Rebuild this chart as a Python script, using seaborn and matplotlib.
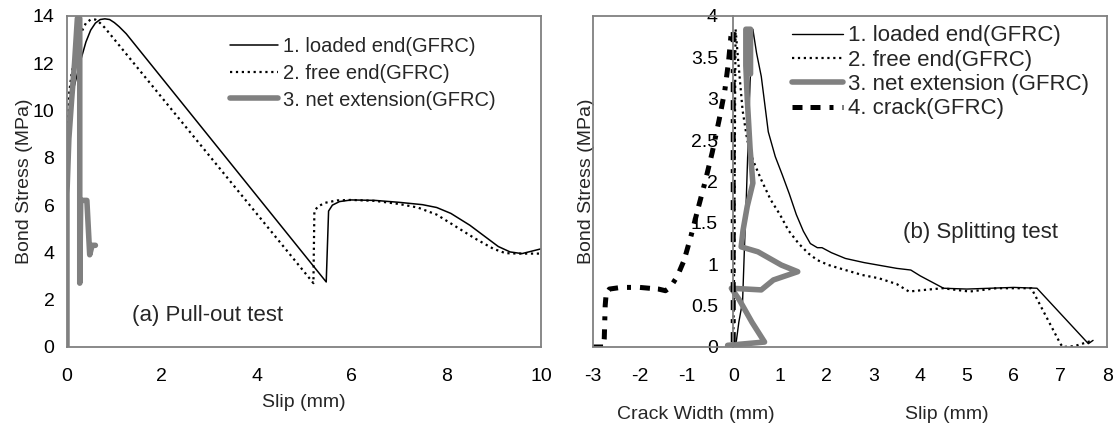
import numpy as np
import pandas as pd
import matplotlib as mpl
mpl.use("Agg")
import matplotlib.pyplot as plt
import seaborn as sns
from matplotlib.ticker import FixedLocator, FixedFormatter

# -- data: (a) pull-out test ---------------------------------------
pull_loaded_x = [0, 0.0, 0.02, 0.05, 0.1, 0.2, 0.3, 0.4, 0.5, 0.6, 0.7, 0.8, 0.9, 1.0, 1.1, 1.25,
                 5.47, 5.52, 5.6, 5.75, 6.0, 6.5, 7.0, 7.5, 7.8, 8.1, 8.5, 8.8, 9.1, 9.35, 9.6, 9.8, 10.0]
pull_loaded_y = [0, 6.0, 8.5, 9.8, 10.6, 11.4, 12.2, 12.9, 13.4, 13.7, 13.85, 13.88, 13.85, 13.72, 13.55, 13.25,
                 2.75, 5.75, 6.0, 6.15, 6.22, 6.2, 6.12, 6.02, 5.9, 5.65, 5.15, 4.7, 4.25, 4.02, 3.95, 4.05, 4.15]

pull_free_x = [0, 0.0, 0.02, 0.05, 0.1, 0.15, 0.2, 0.3, 0.4, 0.5, 0.6, 0.7, 0.8,
               5.2, 5.22, 5.3, 5.45, 5.7, 6.0, 6.5, 7.0, 7.4, 7.8, 8.2, 8.6, 9.0, 9.25, 9.5, 10.0]
pull_free_y = [0, 7.0, 9.5, 10.8, 11.6, 12.1, 12.6, 13.3, 13.7, 13.85, 13.85, 13.7, 13.5,
               2.7, 5.75, 5.95, 6.1, 6.2, 6.22, 6.18, 6.05, 5.9, 5.6, 5.1, 4.6, 4.15, 3.97, 3.95, 3.95]

pull_net_x = [0, 0.0, 0.04, 0.1, 0.16, 0.22, 0.27, 0.27, 0.29, 0.42, 0.48, 0.53, 0.6]
pull_net_y = [0, 6.5, 8.8, 10.5, 12.0, 13.9, 13.9, 2.7, 6.2, 6.2, 3.9, 4.3, 4.3]

# -- data: (b) splitting test --------------------------------------
split_loaded_x = [0.05, 0.12, 0.2, 0.24, 0.28, 0.32, 0.36, 0.42, 0.5, 0.6, 0.75, 0.9, 1.05, 1.2, 1.35,
                  1.5, 1.65, 1.8, 1.9, 2.1, 2.4, 2.8, 3.1, 3.5, 3.8, 4.0, 4.2, 4.5, 5.0, 5.5, 6.0, 6.5, 7.6, 7.7]
split_loaded_y = [0, 0.3, 0.55, 1.2, 1.8, 2.5, 3.2, 3.84, 3.55, 3.27, 2.6, 2.3, 2.08, 1.85, 1.6,
                  1.4, 1.25, 1.2, 1.2, 1.14, 1.07, 1.02, 0.99, 0.95, 0.93, 0.86, 0.8, 0.71, 0.7, 0.71, 0.72, 0.71, 0.04, 0.08]

split_free_x = [0.0, 0.02, 0.03, 0.04, 0.05, 0.1, 0.2, 0.3, 0.42, 0.6, 0.8, 1.0, 1.18, 1.4, 1.61, 1.8,
                2.04, 2.4, 2.76, 3.12, 3.5, 3.76, 4.1, 4.48, 5.06, 5.63, 6.0, 6.38, 7.0, 7.05, 7.3, 7.7]
split_free_y = [0, 1.0, 2.0, 3.0, 3.84, 3.5, 2.86, 2.5, 2.26, 2.02, 1.78, 1.6, 1.41, 1.25, 1.13, 1.05,
                0.99, 0.93, 0.87, 0.83, 0.76, 0.67, 0.69, 0.71, 0.67, 0.71, 0.71, 0.71, 0.04, 0.0, 0.01, 0.08]

split_net_x = [-0.12, 0.67, 0.4, 0.13, -0.04, 0.6, 0.86, 1.38, 1.03, 0.53, 0.17, 0.21, 0.3, 0.42,
               0.36, 0.3, 0.27, 0.27, 0.37, 0.37]
split_net_y = [0.02, 0.06, 0.3, 0.57, 0.71, 0.69, 0.81, 0.91, 0.99, 1.15, 1.21, 1.41, 1.7, 1.98,
               2.4, 3.0, 3.4, 3.84, 3.84, 3.3]

split_crack_x = [-3.0, -2.78, -2.76, -2.74, -2.72, -2.65, -2.4, -2.0, -1.6, -1.45, -1.35, -1.2, -1.05,
                 -0.9, -0.75, -0.6, -0.45, -0.3, -0.18, -0.1, -0.05, 0.0, 0.0]
split_crack_y = [0, 0, 0.1, 0.5, 0.64, 0.7, 0.72, 0.72, 0.7, 0.68, 0.72, 0.85, 1.05,
                 1.35, 1.68, 2.0, 2.35, 2.75, 3.1, 3.45, 3.75, 3.83, 0.0]

pull_labels = ["1. loaded end(GFRC)", "2. free end(GFRC)", "3. net extension(GFRC)"]
split_labels = ["1. loaded end(GFRC)", "2. free end(GFRC)", "3. net extension (GFRC)", "4. crack(GFRC)"]
pull_yticks = [0, 2, 4, 6, 8, 10, 12, 14]
pull_xticks = [0, 2, 4, 6, 8, 10]
split_xticks = [-3, -2, -1, 0, 1, 2, 3, 4, 5, 6, 7, 8]
split_yticks = [0, 0.5, 1, 1.5, 2, 2.5, 3, 3.5, 4]
split_ytick_labels = ["0", "0.5", "1", "1.5", "2", "2.5", "3", "3.5", "4"]

# -- style ---------------------------------------------------------
sns.set_style("white")
plt.rcParams['font.family'] = ['Liberation Sans', 'DejaVu Sans']
plt.rcParams['axes.unicode_minus'] = False
grey = '#808080'
crack_ls = (0, (2.0, 1.6, 2.0, 1.8, 0.8, 1.8))


def style_axes(ax):
    for sp in ax.spines.values():
        sp.set_color(grey)
        sp.set_linewidth(1.3)
    ax.tick_params(direction='in', length=4, width=1, color=grey, labelsize=14, labelcolor='black')
    ax.tick_params(axis='x', pad=15)


fig = plt.figure(figsize=(11.16, 4.23), dpi=100)

# -- (a) pull-out test ---------------------------------------------
ax1 = fig.add_axes([0.0600, 0.1797, 0.4247, 0.7825])
sns.lineplot(x=pull_loaded_x, y=pull_loaded_y, sort=False, estimator=None, ax=ax1,
             color='black', lw=1.1, label=pull_labels[0])
sns.lineplot(x=pull_free_x, y=pull_free_y, sort=False, estimator=None, ax=ax1,
             color='black', lw=1.6, linestyle=':', label=pull_labels[1])
sns.lineplot(x=pull_net_x, y=pull_net_y, sort=False, estimator=None, ax=ax1,
             color=grey, lw=4, label=pull_labels[2])
ax1.set_xlim(0, 10)
ax1.set_ylim(0, 14)
ax1.xaxis.set_major_locator(FixedLocator(pull_xticks))
ax1.yaxis.set_major_locator(FixedLocator(pull_yticks))
style_axes(ax1)
ax1.tick_params(axis='y', pad=9)
ax1.set_xlabel("Slip (mm)", fontsize=14)
ax1.set_ylabel("Bond Stress (MPa)", fontsize=14)
ax1.xaxis.set_label_coords(0.5, -0.142)
ax1.yaxis.set_label_coords(-0.072, 0.5)
ax1.text(2.97, 1.35, "(a) Pull-out test", fontsize=16, ha='center', va='center')
ax1.legend(loc='upper left', bbox_to_anchor=(0.206, 0.912), bbox_transform=fig.transFigure,
           frameon=False, fontsize=14.5, borderpad=0, borderaxespad=0,
           handlelength=2.4, handletextpad=0.25, labelspacing=0.38)

# -- (b) splitting test --------------------------------------------
ax2 = fig.add_axes([0.5314, 0.1797, 0.4606, 0.7825])
sns.lineplot(x=split_loaded_x, y=split_loaded_y, sort=False, estimator=None, ax=ax2,
             color='black', lw=1.0, label=split_labels[0])
sns.lineplot(x=split_free_x, y=split_free_y, sort=False, estimator=None, ax=ax2,
             color='black', lw=1.6, linestyle=':', label=split_labels[1])
sns.lineplot(x=split_net_x, y=split_net_y, sort=False, estimator=None, ax=ax2,
             color=grey, lw=4, label=split_labels[2])
sns.lineplot(x=split_crack_x, y=split_crack_y, sort=False, estimator=None, ax=ax2,
             color='black', lw=3.6, linestyle=crack_ls, label=split_labels[3])
ax2.set_xlim(-3, 8)
ax2.set_ylim(0, 4)
ax2.xaxis.set_major_locator(FixedLocator(split_xticks))
ax2.yaxis.set_major_locator(FixedLocator(split_yticks))
ax2.yaxis.set_major_formatter(FixedFormatter(split_ytick_labels))
style_axes(ax2)
ax2.tick_params(axis='y', pad=11)
ax2.spines['left'].set_position(('data', 0))
ax2.axvline(-3, color=grey, lw=1.3, clip_on=False)
ax2.set_xlabel("")
ax2.set_ylabel("Bond Stress (MPa)", fontsize=14)
ax2.yaxis.set_label_coords(0.004, 0.5)
ax2.text(-0.8, -0.178, "Crack Width (mm)", fontsize=14, ha='center', va='top',
         transform=ax2.get_xaxis_transform())
ax2.text(4.57, -0.178, "Slip (mm)", fontsize=14, ha='center', va='top',
         transform=ax2.get_xaxis_transform())
ax2.text(5.29, 1.38, "(b) Splitting test", fontsize=16, ha='center', va='center')
ax2.legend(loc='upper left', bbox_to_anchor=(0.7097, 0.94), bbox_transform=fig.transFigure,
           frameon=False, fontsize=16, borderpad=0, borderaxespad=0,
           handlelength=2.3, handletextpad=0.2, labelspacing=0.15)

fig.savefig("out.png", dpi=100)
